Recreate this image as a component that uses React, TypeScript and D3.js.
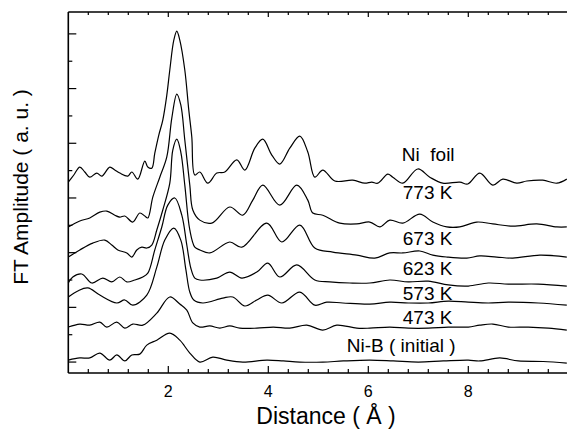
import React from "react";
import * as d3 from "d3";

const seriesNames = ["Ni  foil", "773 K", "673 K", "623 K", "573 K", "473 K", "Ni-B ( initial )"];

const niFoil: [number, number][] = [[0, 6.58], [0.11, 6.84], [0.23, 7.13], [0.33, 6.95], [0.43, 6.76], [0.57, 6.91], [0.67, 6.80], [0.83, 7.13], [0.93, 7.02], [1.03, 6.91], [1.19, 6.80], [1.27, 6.95], [1.39, 6.69], [1.53, 7.35], [1.59, 7.13], [1.67, 7.09], [1.73, 7.64], [1.81, 8.30], [1.89, 8.85], [1.97, 9.76], [2.03, 10.68], [2.11, 11.77], [2.17, 12.10], [2.23, 11.77], [2.33, 10.68], [2.41, 9.21], [2.47, 8.23], [2.53, 6.84], [2.63, 6.95], [2.79, 6.54], [2.97, 6.91], [3.13, 6.95], [3.37, 7.39], [3.53, 7.02], [3.73, 7.82], [3.89, 8.15], [4.07, 7.57], [4.23, 7.24], [4.43, 7.82], [4.63, 8.26], [4.79, 7.68], [4.93, 6.76], [5.09, 7.02], [5.33, 6.62], [5.69, 6.65], [5.93, 6.54], [6.07, 6.58], [6.19, 6.54], [6.39, 6.87], [6.49, 6.76], [6.69, 6.54], [6.99, 7.06], [7.23, 6.76], [7.49, 6.54], [7.83, 6.58], [7.99, 6.51], [8.23, 6.91], [8.49, 6.47], [8.69, 6.69], [8.97, 6.54], [9.17, 6.62], [9.49, 6.65], [9.77, 6.54], [9.97, 6.69]];

const k773: [number, number][] = [[0, 4.94], [0.23, 5.16], [0.43, 5.27], [0.63, 5.48], [0.77, 5.52], [0.93, 5.37], [1.03, 5.30], [1.13, 5.34], [1.29, 5.12], [1.43, 5.45], [1.53, 5.34], [1.59, 5.27], [1.69, 6.03], [1.83, 6.76], [1.97, 7.50], [2.07, 8.92], [2.17, 9.80], [2.25, 9.40], [2.33, 8.12], [2.43, 6.47], [2.49, 5.56], [2.63, 5.19], [2.87, 5.08], [3.23, 5.67], [3.49, 5.37], [3.69, 5.92], [3.89, 6.47], [4.23, 5.74], [4.57, 6.47], [4.79, 5.92], [4.89, 5.45], [5.09, 5.37], [5.43, 5.08], [5.77, 5.05], [6.03, 5.12], [6.23, 4.94], [6.43, 5.19], [6.69, 5.08], [7.03, 5.41], [7.29, 5.12], [7.57, 4.94], [7.83, 4.94], [8.17, 5.12], [8.49, 5.05], [8.89, 4.97], [9.37, 5.05], [9.77, 4.94], [9.97, 4.94]];

const k673: [number, number][] = [[0, 3.84], [0.23, 4.10], [0.49, 4.35], [0.73, 4.46], [0.87, 4.28], [0.99, 4.10], [1.17, 3.99], [1.27, 3.84], [1.37, 4.10], [1.47, 4.20], [1.57, 4.17], [1.67, 4.28], [1.77, 4.83], [1.89, 5.56], [2.03, 6.54], [2.09, 7.75], [2.17, 8.15], [2.25, 7.68], [2.33, 6.47], [2.43, 4.83], [2.53, 4.20], [2.63, 4.10], [2.83, 3.99], [3.23, 4.39], [3.47, 4.20], [3.97, 5.08], [4.27, 4.39], [4.63, 5.01], [4.93, 4.17], [5.29, 4.02], [5.77, 3.91], [6.13, 3.80], [6.43, 3.99], [6.69, 3.99], [7.03, 4.06], [7.29, 3.91], [7.57, 3.84], [7.97, 3.80], [8.23, 3.88], [8.57, 3.84], [8.89, 3.80], [9.43, 3.91], [9.97, 3.84]];

const k623: [number, number][] = [[0, 2.89], [0.09, 3.11], [0.27, 3.22], [0.47, 2.89], [0.69, 3.07], [0.87, 2.93], [1.03, 3.11], [1.17, 2.93], [1.33, 3.0], [1.49, 3.11], [1.59, 3.25], [1.73, 4.10], [1.87, 4.94], [1.99, 5.74], [2.13, 6.00], [2.27, 5.37], [2.37, 4.28], [2.45, 3.44], [2.53, 3.07], [2.63, 3.00], [2.97, 3.07], [3.23, 3.29], [3.47, 3.07], [3.77, 3.29], [3.99, 3.62], [4.23, 3.11], [4.57, 3.55], [4.93, 3.00], [5.23, 2.93], [5.63, 2.89], [6.03, 2.89], [6.43, 3.00], [6.80, 2.93], [7.20, 2.96], [7.60, 2.82], [8.00, 2.78], [8.40, 2.89], [8.80, 2.85], [9.40, 2.85], [9.97, 2.78]];

const k573: [number, number][] = [[0, 2.38], [0.19, 2.60], [0.39, 2.71], [0.63, 2.45], [0.97, 2.16], [1.13, 2.27], [1.29, 2.08], [1.57, 2.45], [1.77, 3.47], [1.93, 4.46], [2.11, 4.90], [2.25, 4.46], [2.35, 3.40], [2.43, 2.56], [2.51, 2.27], [2.69, 2.16], [3.09, 2.34], [3.29, 2.38], [3.53, 2.05], [3.77, 2.27], [3.99, 2.45], [4.27, 2.16], [4.63, 2.56], [4.93, 2.08], [5.17, 2.19], [5.49, 2.16], [6.03, 2.12], [6.43, 2.19], [6.80, 2.16], [7.20, 2.16], [7.60, 2.23], [8.00, 2.19], [8.40, 2.16], [8.80, 2.19], [9.40, 2.16], [9.97, 2.08]];

const k473: [number, number][] = [[0, 1.28], [0.23, 1.39], [0.43, 1.35], [0.63, 1.46], [0.77, 1.28], [0.97, 1.46], [1.13, 1.24], [1.29, 1.39], [1.49, 1.35], [1.77, 1.79], [2.03, 2.38], [2.23, 2.12], [2.37, 1.90], [2.49, 1.43], [2.63, 1.28], [2.83, 1.32], [3.03, 1.24], [3.23, 1.32], [3.43, 1.24], [3.77, 1.24], [4.10, 1.28], [4.43, 1.24], [4.77, 1.35], [5.09, 1.17], [5.37, 1.35], [5.77, 1.24], [6.03, 1.24], [6.43, 1.28], [6.80, 1.24], [7.20, 1.24], [7.60, 1.28], [8.00, 1.28], [8.23, 1.35], [8.49, 1.39], [8.80, 1.28], [9.20, 1.28], [9.60, 1.24], [9.97, 1.17]];

const niB: [number, number][] = [[0, 0.07], [0.23, 0.15], [0.43, 0.15], [0.63, 0.33], [0.83, 0.07], [0.97, 0.26], [1.13, 0.04], [1.27, 0.26], [1.43, 0.29], [1.57, 0.62], [1.77, 0.80], [2.03, 1.06], [2.23, 0.80], [2.43, 0.33], [2.63, 0.0], [2.89, 0.18], [3.17, 0.07], [3.49, 0.0], [3.97, 0.07], [4.30, 0.04], [4.63, 0.0], [5.09, 0.0], [5.50, 0.04], [6.03, 0.07], [6.50, 0.04], [7.00, 0.0], [7.50, 0.04], [8.00, 0.07], [8.23, 0.04], [8.63, 0.15], [9.00, 0.04], [9.50, 0.02], [9.97, -0.04]];

const allSeries = [niFoil, k773, k673, k623, k573, k473, niB];

// label anchors (data units)
const labelX = [6.67, 6.69, 6.69, 6.69, 6.69, 6.69, 5.57];
const labelY = [7.35, 5.96, 4.28, 3.18, 2.27, 1.39, 0.37];

const xTickLabels = [2, 4, 6, 8];
const xMinorStep = 0.4;
const yTickValues = [0, 1, 2, 3, 4, 5, 6, 7, 8, 9, 10, 11, 12];

const W = 567;
const H = 429;
const FONT = "'Liberation Sans', Arial, Helvetica, sans-serif";

export default function App() {
  const x = d3.scaleLinear().domain([0, 10]).range([68.3, 568.3]);
  const y = d3.scaleLinear().domain([-0.4, 12.8]).range([373, 12]);
  const line = d3
    .line<[number, number]>()
    .x((d) => x(d[0]))
    .y((d) => y(d[1]))
    .curve(d3.curveCatmullRom.alpha(0.5));

  const xTicks = d3.range(1, 26).map((i) => +(i * xMinorStep).toFixed(2));
  const [x0, x1] = x.range();
  const [yb, yt] = y.range();

  return (
    <svg width={W} height={H} style={{ position: "absolute", left: 0, top: 0, background: "#fff" }}>
      <rect x={0} y={0} width={W} height={H} fill="#fff" />
      <g fill="none" stroke="#000" strokeWidth={1.2}>
        {allSeries.map((s, i) => (
          <path key={i} d={line(s) || ""} />
        ))}
      </g>
      {/* frame */}
      <g stroke="#000" strokeWidth={1.6} fill="none">
        <line x1={x0} x2={x0} y1={yt} y2={yb} />
        <line x1={x0} x2={x1} y1={yb} y2={yb} />
        <line x1={x0} x2={x1} y1={yt} y2={yt} />
        <line x1={x1} x2={x1} y1={yt} y2={yb} />
      </g>
      {/* ticks */}
      <g stroke="#000" strokeWidth={1.2}>
        {xTicks.map((t) => {
          const major = xTickLabels.includes(t);
          const len = major ? 7 : 4;
          return (
            <g key={t}>
              <line x1={x(t)} x2={x(t)} y1={yb} y2={yb - len} />
              <line x1={x(t)} x2={x(t)} y1={yt} y2={yt + (major ? 5 : 3)} />
            </g>
          );
        })}
        {yTickValues.map((t) => {
          const major = t % 2 === 0;
          return <line key={t} x1={x0} x2={x0 + (major ? 8 : 4)} y1={y(t)} y2={y(t)} />;
        })}
      </g>
      <g fontFamily={FONT} fontSize={16} textAnchor="middle" fill="#000">
        {xTickLabels.map((t) => (
          <text key={t} x={x(t)} y={397}>
            {t}
          </text>
        ))}
      </g>
      <g fontFamily={FONT} fontSize={19} fill="#000">
        {seriesNames.map((n, i) => (
          <text key={n} x={x(labelX[i])} y={y(labelY[i])} style={{ whiteSpace: "pre" }}>
            {n}
          </text>
        ))}
      </g>
      <text x={326} y={424} fontFamily={FONT} fontSize={23} textAnchor="middle" fill="#000">
        Distance ( Å )
      </text>
      <text
        transform={`translate(28, 187) rotate(-90)`}
        fontFamily={FONT}
        fontSize={21}
        textAnchor="middle"
        fill="#000"
      >
        FT Amplitude ( a. u. )
      </text>
    </svg>
  );
}
